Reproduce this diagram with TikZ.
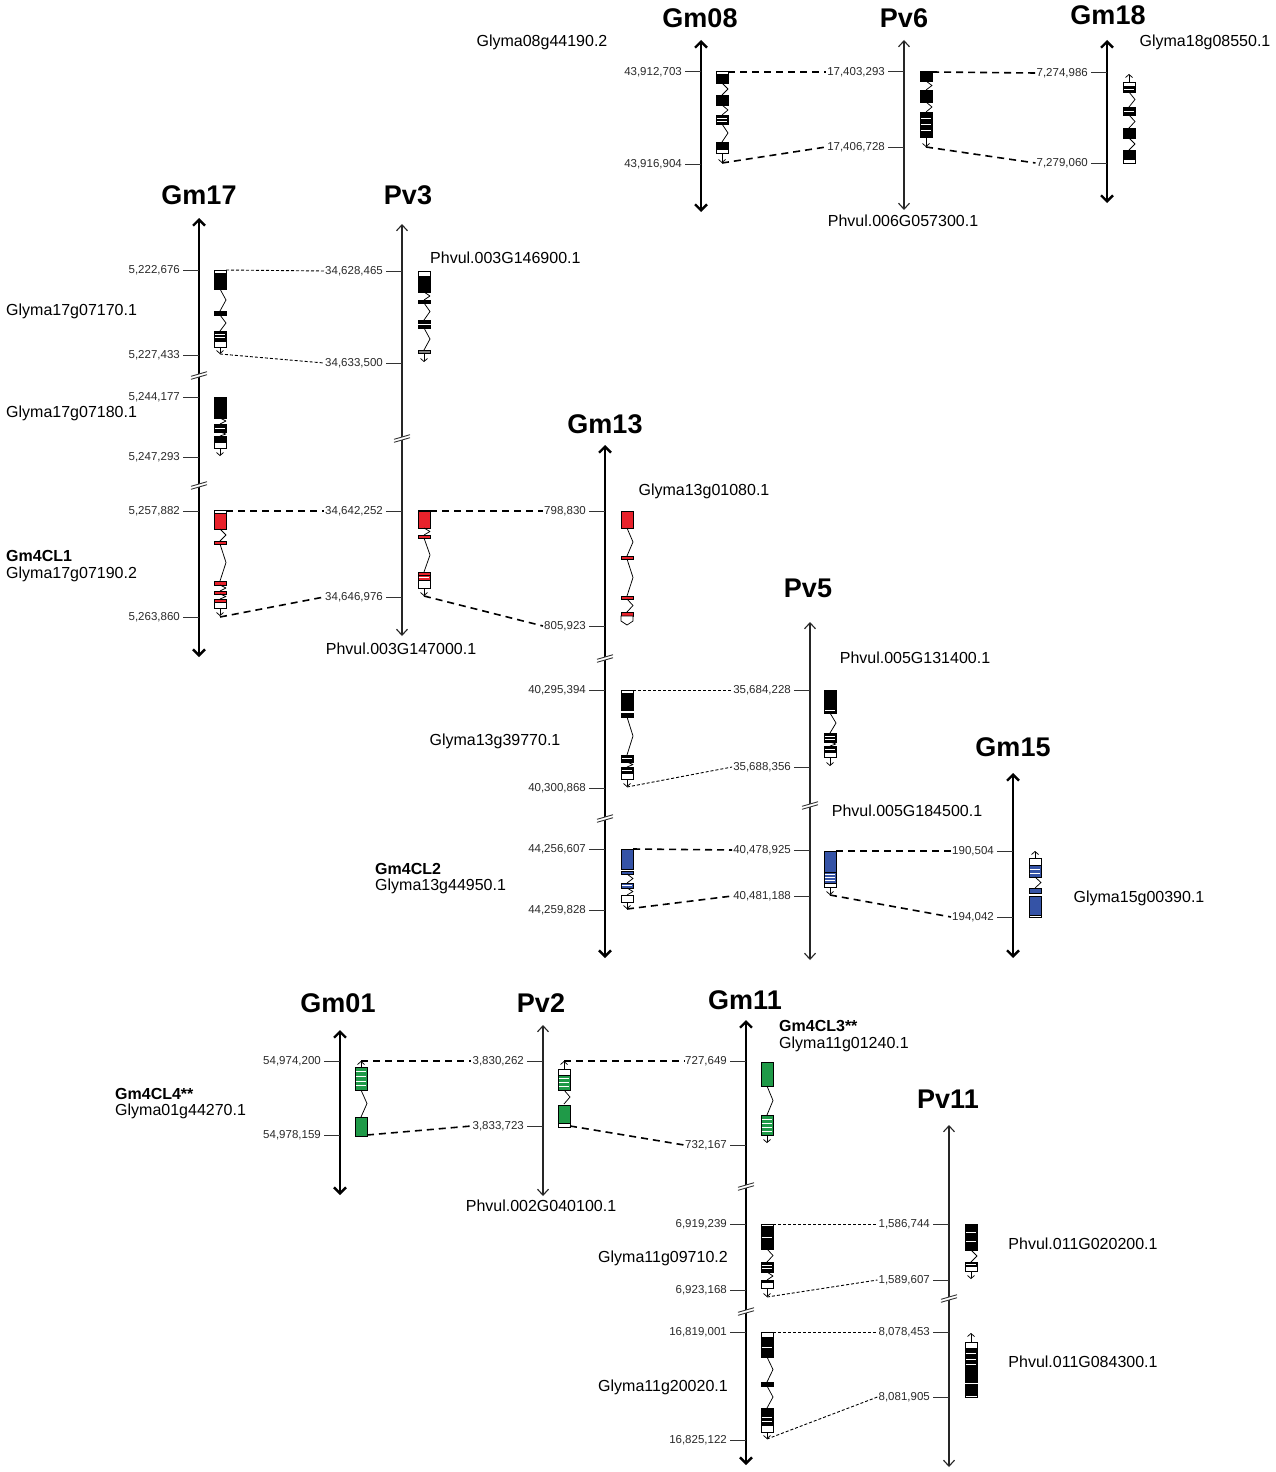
\documentclass[tikz,border=0pt]{standalone}
\usepackage{fontspec}
\setmainfont{Liberation Sans}
\usetikzlibrary{arrows.meta}
\definecolor{myred}{HTML}{E8222B}
\definecolor{myblue}{HTML}{3553A6}
\definecolor{mygreen}{HTML}{1F9A48}
\definecolor{numgray}{HTML}{2A2A2A}

\newcommand{\gExon}[4]{\filldraw[genebox, fill=#4] ({#1-6},#2) rectangle ({#1+6},#3);}
\newcommand{\gUtr}[3]{\filldraw[genebox, fill=white] ({#1-6},#2) rectangle ({#1+6},#3);}
\newcommand{\gIntr}[3]{\draw[intronl] (#1,#2) -- ({#1+6},{(#2+#3)/2}) -- (#1,#3);}
\newcommand{\gArr}[3]{\draw[intronl,-{Straight Barb[length=3pt,width=7pt]}] (#1,#2) -- (#1,#3);}
\newcommand{\gStr}[5]{\filldraw[genebox, fill=#4] ({#1-6},#2) rectangle ({#1+6},#3);
  \pgfmathtruncatemacro\gnn{#5-1}
  \foreach \k in {1,...,\gnn}{\draw[white, line width=0.55pt] ({#1-5.4},{#2+(#3-#2)*\k/#5}) -- ({#1+5.4},{#2+(#3-#2)*\k/#5});}}
\newcommand{\mTick}[4]{\draw[tickl] ({#1-16},#2) -- (#1,#2);
  \node[numl, anchor=east] (#3) at ({#1-18},#2) {#4};}
\newcommand{\mBrk}[2]{\fill[white] ({#1-7},{#2+2}) -- ({#1+7},{#2-2}) -- ({#1+7},{#2+1}) -- ({#1-7},{#2+5}) -- cycle;
  \draw[brkl] ({#1-8},{#2+2.3}) -- ({#1+8},{#2-2.3});
  \draw[brkl] ({#1-8},{#2+5.3}) -- ({#1+8},{#2+0.7});}

\begin{document}
\begin{tikzpicture}[x=1pt,y=-1pt,
  title/.style={font=\fontsize{27}{30}\selectfont\bfseries, inner sep=0pt},
  glab/.style={font=\fontsize{16}{18}\selectfont, inner sep=1pt},
  gbold/.style={font=\fontsize{16}{18}\selectfont\bfseries, inner sep=1pt},
  numl/.style={font=\fontsize{11.5}{13}\selectfont, text=numgray, inner sep=1pt},
  gmaxis/.style={line width=2.4pt, {Straight Barb[length=6pt,width=12pt]}-{Straight Barb[length=6pt,width=12pt]}},
  pvaxis/.style={line width=1.1pt, draw=black!85, {Straight Barb[length=6pt,width=11pt]}-{Straight Barb[length=6pt,width=11pt]}},
  genebox/.style={draw=black, line width=0.7pt},
  intronl/.style={line width=0.75pt, line join=round},
  tickl/.style={line width=1pt, draw=black!80},
  brkl/.style={line width=0.9pt, draw=black!80},
  dthick/.style={line width=1.6pt, dash pattern=on 7pt off 5pt},
  dthin/.style={line width=0.9pt, dash pattern=on 3pt off 2pt}]
\fill[white] (0,0) rectangle (1275,1472);
\useasboundingbox (0,0) rectangle (1275,1472);

% ---------------- titles
\node[title] (tGm08) at (700,18) {Gm08};
\node[title] (tPv6)  at (904,18) {Pv6};
\node[title] (tGm18) at (1108,15) {Gm18};
\node[title] (tGm17) at (199,195) {Gm17};
\node[title] (tPv3)  at (408,195) {Pv3};
\node[title] (tGm13) at (605,424) {Gm13};
\node[title] (tPv5)  at (808,588) {Pv5};
\node[title] (tGm15) at (1013,747) {Gm15};
\node[title] (tGm01) at (338,1003) {Gm01};
\node[title] (tPv2)  at (541,1003) {Pv2};
\node[title] (tGm11) at (745,1000) {Gm11};
\node[title] (tPv11) at (948,1099) {Pv11};

% ---------------- axes
\draw[gmaxis] (701,40) -- (701,212);
\draw[pvaxis] (904,40) -- (904,210);
\draw[gmaxis] (1107,40) -- (1107,203);
\draw[gmaxis] (199,218) -- (199,657);
\draw[pvaxis] (402,224) -- (402,636);
\draw[gmaxis] (605,445) -- (605,958);
\draw[pvaxis] (810,622) -- (810,960);
\draw[gmaxis] (1013,773) -- (1013,958);
\draw[gmaxis] (340,1030) -- (340,1195);
\draw[pvaxis] (543,1025) -- (543,1196);
\draw[gmaxis] (746,1020) -- (746,1465);
\draw[pvaxis] (949,1125) -- (949,1467);

% ---------------- breaks
\mBrk{199}{374}
\mBrk{199}{484}
\mBrk{402}{437}
\mBrk{605}{657}
\mBrk{605}{817}
\mBrk{810}{804}
\mBrk{746}{1185}
\mBrk{746}{1310}
\mBrk{949}{1297}

% ---------------- ticks
\mTick{701}{72}{g08a}{43,912,703}
\mTick{701}{164}{g08b}{43,916,904}
\mTick{904}{72}{p6a}{17,403,293}
\mTick{904}{147}{p6b}{17,406,728}
\mTick{1107}{73}{g18a}{7,274,986}
\mTick{1107}{163}{g18b}{7,279,060}

\mTick{199}{270}{g17a}{5,222,676}
\mTick{199}{355}{g17b}{5,227,433}
\mTick{199}{397}{g17c}{5,244,177}
\mTick{199}{457}{g17d}{5,247,293}
\mTick{199}{511}{g17e}{5,257,882}
\mTick{199}{617}{g17f}{5,263,860}

\mTick{402}{271}{p3a}{34,628,465}
\mTick{402}{363}{p3b}{34,633,500}
\mTick{402}{511}{p3c}{34,642,252}
\mTick{402}{597}{p3d}{34,646,976}

\mTick{605}{511}{g13a}{798,830}
\mTick{605}{626}{g13b}{805,923}
\mTick{605}{690}{g13c}{40,295,394}
\mTick{605}{788}{g13d}{40,300,868}
\mTick{605}{849}{g13e}{44,256,607}
\mTick{605}{910}{g13f}{44,259,828}

\mTick{810}{690}{p5a}{35,684,228}
\mTick{810}{767}{p5b}{35,688,356}
\mTick{810}{850}{p5c}{40,478,925}
\mTick{810}{896}{p5d}{40,481,188}

\mTick{1013}{851}{g15a}{190,504}
\mTick{1013}{917}{g15b}{194,042}

\mTick{340}{1061}{g01a}{54,974,200}
\mTick{340}{1135}{g01b}{54,978,159}

\mTick{543}{1061}{p2a}{3,830,262}
\mTick{543}{1126}{p2b}{3,833,723}

\mTick{746}{1061}{g11a}{727,649}
\mTick{746}{1145}{g11b}{732,167}
\mTick{746}{1224}{g11c}{6,919,239}
\mTick{746}{1290}{g11d}{6,923,168}
\mTick{746}{1332}{g11e}{16,819,001}
\mTick{746}{1440}{g11f}{16,825,122}

\mTick{949}{1224}{p11a}{1,586,744}
\mTick{949}{1280}{p11b}{1,589,607}
\mTick{949}{1332}{p11c}{8,078,453}
\mTick{949}{1397}{p11d}{8,081,905}

% ---------------- genes
% Gm08
\gUtr{722}{71}{74}
\gExon{722}{74}{83}{black}
\gIntr{722}{83}{95}
\gExon{722}{95}{105}{black}
\gIntr{722}{105}{115}
\gStr{722}{115}{124}{black}{3}
\gIntr{722}{124}{142}
\gExon{722}{142}{149}{black}
\gUtr{722}{149}{153}
\gArr{722}{153}{163}
\coordinate (G08t) at (728,72);
\coordinate (G08b) at (722,163);
% Pv6
\gExon{926}{71}{81}{black}
\gIntr{926}{81}{90}
\gExon{926}{90}{102}{black}
\gIntr{926}{102}{112}
\gStr{926}{112}{137}{black}{4}
\gArr{926}{137}{147}
\coordinate (P6t) at (932,72);
\coordinate (P6b) at (926,147);
% Gm18 (reverse)
\gArr{1129}{82}{74}
\gUtr{1129}{82}{86}
\gStr{1129}{86}{92}{black}{2}
\gIntr{1129}{92}{107}
\gStr{1129}{107}{115}{black}{2}
\gIntr{1129}{115}{128}
\gExon{1129}{128}{138}{black}
\gIntr{1129}{138}{150}
\gExon{1129}{150}{159}{black}
\gUtr{1129}{159}{163}

% Gm17 Glyma17g07170.1
\gUtr{220}{270}{273}
\gExon{220}{273}{289}{black}
\gIntr{220}{289}{311}
\gExon{220}{311}{315}{black}
\gIntr{220}{315}{331}
\gStr{220}{331}{341}{black}{3}
\gUtr{220}{341}{347}
\gArr{220}{347}{354}
\coordinate (G17at) at (226,270);
\coordinate (G17ab) at (220,354);
% Gm17 Glyma17g07180.1
\gExon{220}{397}{413}{black}
\gExon{220}{414}{418}{black}
\gIntr{220}{418}{424}
\gStr{220}{424}{432}{black}{2}
\gIntr{220}{432}{436}
\gExon{220}{436}{441}{black}
\gUtr{220}{442}{448}
\gArr{220}{448}{456}
% Gm17 Gm4CL1
\gUtr{220}{510}{513}
\gExon{220}{513}{529}{myred}
\gIntr{220}{529}{541}
\gExon{220}{541}{544}{myred}
\gIntr{220}{544}{581}
\gExon{220}{581}{585}{myred}
\gIntr{220}{585}{591}
\gExon{220}{591}{594}{myred}
\gIntr{220}{594}{599}
\gExon{220}{599}{602}{myred}
\gUtr{220}{602}{608}
\gArr{220}{608}{616}
\coordinate (G17ct) at (226,511);
\coordinate (G17cb) at (220,617);

% Pv3 Phvul.003G146900.1
\gUtr{424}{271}{276}
\gExon{424}{276}{292}{black}
\gIntr{424}{292}{300}
\gExon{424}{300}{303}{black}
\gIntr{424}{303}{320}
\gExon{424}{320}{323}{black}
\gExon{424}{325}{328}{black}
\gIntr{424}{328}{350}
\gExon{424}{350}{353}{gray}
\gArr{424}{353}{362}
% Pv3 Phvul.003G147000.1
\gExon{424}{510}{528}{myred}
\draw[line width=1.2pt] (418,511) -- (430,511);
\gIntr{424}{528}{535}
\gExon{424}{535}{538}{myred}
\gIntr{424}{538}{572}
\gExon{424}{572}{575}{myred}
\gStr{424}{575}{580}{myred}{2}
\gUtr{424}{580}{588}
\gArr{424}{588}{596}
\coordinate (P3bt) at (430,511);
\coordinate (P3bb) at (424,596);

% Gm13 Glyma13g01080.1
\gExon{627}{511}{528}{myred}
\gIntr{627}{528}{556}
\gExon{627}{556}{559}{myred}
\gIntr{627}{559}{596}
\gExon{627}{596}{599}{myred}
\gIntr{627}{599}{612}
\gExon{627}{612}{616}{myred}
\filldraw[genebox, fill=white] (621,616) -- (633,616) -- (633,621) -- (627,625) -- (621,621) -- cycle;
% Gm13 Glyma13g39770.1
\gUtr{627}{690}{693}
\gExon{627}{693}{710}{black}
\gExon{627}{713}{717}{black}
\gIntr{627}{717}{755}
\gStr{627}{755}{762}{black}{2}
\gIntr{627}{762}{767}
\gStr{627}{767}{773}{black}{2}
\gUtr{627}{773}{779}
\gArr{627}{779}{787}
\coordinate (G13bt) at (633,690);
\coordinate (G13bb) at (627,787);
% Gm13 Gm4CL2
\gExon{627}{849}{869}{myblue}
\gExon{627}{871}{874}{myblue}
\gIntr{627}{874}{883}
\gStr{627}{883}{888}{myblue}{2}
\gIntr{627}{888}{895}
\gUtr{627}{895}{902}
\gArr{627}{902}{909}
\coordinate (G13ct) at (633,849);
\coordinate (G13cb) at (627,909);

% Pv5 Phvul.005G131400.1
\gExon{830}{690}{707}{black}
\gStr{830}{708}{713}{black}{2}
\gIntr{830}{713}{733}
\gStr{830}{733}{742}{black}{3}
\gIntr{830}{742}{746}
\gStr{830}{746}{752}{black}{2}
\gUtr{830}{752}{757}
\gArr{830}{757}{766}
% Pv5 Phvul.005G184500.1
\gExon{830}{851}{872}{myblue}
\gStr{830}{872}{883}{myblue}{4}
\gUtr{830}{883}{887}
\gArr{830}{887}{895}
\coordinate (P5bt) at (836,851);
\coordinate (P5bb) at (830,895);

% Gm15 Glyma15g00390.1 (reverse)
\gArr{1035}{858}{851}
\gUtr{1035}{858}{865}
\gStr{1035}{865}{877}{myblue}{3}
\gIntr{1035}{877}{888}
\gExon{1035}{888}{893}{myblue}
\gExon{1035}{896}{915}{myblue}
\gUtr{1035}{915}{917}

% Gm01 Gm4CL4 (reverse)
\gArr{361}{1067}{1061}
\gStr{361}{1067}{1090}{mygreen}{5}
\gIntr{361}{1090}{1117}
\gExon{361}{1117}{1136}{mygreen}
\coordinate (G01t) at (361,1061);
\coordinate (G01b) at (367,1135);

% Pv2 (reverse)
\gArr{564}{1069}{1061}
\gUtr{564}{1069}{1075}
\gStr{564}{1075}{1090}{mygreen}{4}
\gIntr{564}{1090}{1104}
\gExon{564}{1105}{1123}{mygreen}
\gUtr{564}{1123}{1127}
\coordinate (P2t) at (564,1061);
\coordinate (P2b) at (570,1126);

% Gm11 Gm4CL3
\gExon{767}{1062}{1086}{mygreen}
\gIntr{767}{1086}{1115}
\gStr{767}{1115}{1135}{mygreen}{5}
\gArr{767}{1135}{1143}
% Gm11 Glyma11g09710.2
\gUtr{767}{1224}{1226}
\gStr{767}{1226}{1249}{black}{2}
\gIntr{767}{1249}{1262}
\gStr{767}{1262}{1272}{black}{3}
\gIntr{767}{1272}{1280}
\gExon{767}{1280}{1282}{black}
\gUtr{767}{1282}{1288}
\gArr{767}{1288}{1297}
\coordinate (G11bt) at (773,1224);
\coordinate (G11bb) at (767,1297);
% Gm11 Glyma11g20020.1
\gUtr{767}{1332}{1337}
\gStr{767}{1337}{1357}{black}{2}
\gIntr{767}{1357}{1382}
\gExon{767}{1382}{1386}{black}
\gIntr{767}{1386}{1408}
\gExon{767}{1408}{1412}{black}
\gStr{767}{1413}{1425}{black}{3}
\gUtr{767}{1425}{1432}
\gArr{767}{1432}{1439}
\coordinate (G11ct) at (773,1332);
\coordinate (G11cb) at (767,1439);

% Pv11 Phvul.011G020200.1
\gStr{971}{1224}{1250}{black}{3}
\gIntr{971}{1250}{1262}
\gStr{971}{1262}{1266}{black}{2}
\gUtr{971}{1266}{1271}
\gArr{971}{1271}{1279}
% Pv11 Phvul.011G084300.1 (reverse)
\gArr{971}{1342}{1333}
\gUtr{971}{1342}{1348}
\gStr{971}{1348}{1370}{black}{4}
\gExon{971}{1370}{1382}{black}
\gExon{971}{1384}{1395}{black}
\gUtr{971}{1395}{1397}

% ---------------- connectors
\draw[dthick] (G08t) -- (p6a.west);
\draw[dthick] (G08b) -- (p6b.west);
\draw[dthick] (P6t) -- (g18a.west);
\draw[dthick] (P6b) -- (g18b.west);
\draw[dthin] (G17at) -- (p3a.west);
\draw[dthin] (G17ab) -- (p3b.west);
\draw[dthick] (G17ct) -- (p3c.west);
\draw[dthick] (G17cb) -- (p3d.west);
\draw[dthick] (P3bt) -- (g13a.west);
\draw[dthick] (P3bb) -- (g13b.west);
\draw[dthin] (G13bt) -- (p5a.west);
\draw[dthin] (G13bb) -- (p5b.west);
\draw[dthick] (G13ct) -- (p5c.west);
\draw[dthick] (G13cb) -- (p5d.west);
\draw[dthick] (P5bt) -- (g15a.west);
\draw[dthick] (P5bb) -- (g15b.west);
\draw[dthick] (G01t) -- (p2a.west);
\draw[dthick] (G01b) -- (p2b.west);
\draw[dthick] (P2t) -- (g11a.west);
\draw[dthick] (P2b) -- (g11b.west);
\draw[dthin] (G11bt) -- (p11a.west);
\draw[dthin] (G11bb) -- (p11b.west);
\draw[dthin] (G11ct) -- (p11c.west);
\draw[dthin] (G11cb) -- (p11d.west);

% ---------------- gene labels
\node[glab] (l08) at (542,42) {Glyma08g44190.2};
\node[glab] (l18) at (1205,42) {Glyma18g08550.1};
\node[glab] (l06) at (903,221) {Phvul.006G057300.1};
\node[glab, anchor=west] (l1707) at (5,311) {Glyma17g07170.1};
\node[glab, anchor=west] (l1718) at (5,413) {Glyma17g07180.1};
\node[gbold, anchor=west] (lcl1) at (5,556) {Gm4CL1};
\node[glab, anchor=west] (l1719) at (5,574) {Glyma17g07190.2};
\node[glab, anchor=west] (l3469) at (429,258) {Phvul.003G146900.1};
\node[glab] (l3470) at (401,649) {Phvul.003G147000.1};
\node[glab] (l1301) at (704,491) {Glyma13g01080.1};
\node[glab] (l1339) at (495,741) {Glyma13g39770.1};
\node[gbold, anchor=west] (lcl2) at (374,869) {Gm4CL2};
\node[glab, anchor=west] (l1344) at (374,886) {Glyma13g44950.1};
\node[glab] (l5131) at (915,658) {Phvul.005G131400.1};
\node[glab] (l5184) at (907,811) {Phvul.005G184500.1};
\node[glab] (l1500) at (1139,898) {Glyma15g00390.1};
\node[gbold, anchor=west] (lcl4) at (114,1094) {Gm4CL4**};
\node[glab, anchor=west] (l0144) at (114,1111) {Glyma01g44270.1};
\node[glab] (l2040) at (541,1206) {Phvul.002G040100.1};
\node[gbold, anchor=west] (lcl3) at (778,1026) {Gm4CL3**};
\node[glab, anchor=west] (l1101) at (778,1044) {Glyma11g01240.1};
\node[glab] (l1109) at (663,1258) {Glyma11g09710.2};
\node[glab] (l1120) at (663,1387) {Glyma11g20020.1};
\node[glab] (l11020) at (1083,1244) {Phvul.011G020200.1};
\node[glab] (l11084) at (1083,1362) {Phvul.011G084300.1};
\end{tikzpicture}
\end{document}
